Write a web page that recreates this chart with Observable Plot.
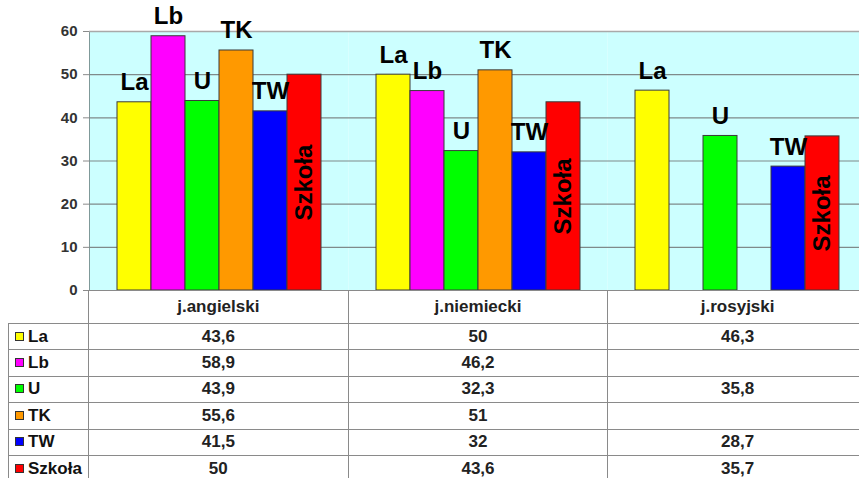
<!DOCTYPE html>
<html>
<head>
<meta charset="utf-8">
<script src="https://cdn.jsdelivr.net/npm/d3@7"></script>
<script src="https://cdn.jsdelivr.net/npm/@observablehq/plot@0.6"></script>
<style>
  html, body { margin: 0; padding: 0; background: #fff; width: 859px; height: 478px; overflow: hidden; }
  body { font-family: "Liberation Sans", Arial, sans-serif; }
  #wrap { position: relative; width: 868px; height: 478px; }
  #chart svg { display: block; }
  #chart [aria-label^="y-axis"] line, #chart [aria-label^="y-axis"] path { stroke: #8a8a8a; }
  #chart [aria-label^="y-axis"] text { fill: #333; font-size: 15px; font-weight: bold; }
  #tbl { position: absolute; left: 8px; top: 290px; border-collapse: collapse; table-layout: fixed; }
  #tbl td { border: 1px solid #8a8a8a; padding: 0; font-weight: bold; font-size: 17px; color: #222; text-align: center; white-space: nowrap; overflow: hidden; }
  #tbl tr.head td { height: 32px; }
  #tbl tr.row td { height: 25.4px; }
  #tbl td.blank { border-top: none; border-left: none; background: transparent; }
  #tbl td.key { text-align: left; color: #111; padding-left: 6px; }
  #tbl .sw { display: inline-block; width: 7px; height: 7px; border: 1px solid #333; margin-right: 4px; vertical-align: 1px; }
</style>
</head>
<body>
<div id="wrap"><div id="chart"></div></div>
<script>
const categories = ["j.angielski", "j.niemiecki", "j.rosyjski"];
const series = ["La", "Lb", "U", "TK", "TW", "Szkoła"];
const seriesColors = ["#FFFF00", "#FF00FF", "#00FF00", "#FF9900", "#0000FF", "#FF0000"];
const valuesAngielski = [43.6, 58.9, 43.9, 55.6, 41.5, 50];
const valuesNiemiecki = [50, 46.2, 32.3, 51, 32, 43.6];
const valuesRosyjski = [46.3, null, 35.8, null, 28.7, 35.7];
const yTicks = [0, 10, 20, 30, 40, 50, 60];

const valuesByCategory = [valuesAngielski, valuesNiemiecki, valuesRosyjski];
const data = [];
categories.forEach((c, ci) => {
  series.forEach((s, si) => {
    data.push({category: c, series: s, value: valuesByCategory[ci][si]});
  });
});
const present = data.filter(d => d.value != null);

const chart = Plot.plot({
  width: 868,
  height: 300,
  marginLeft: 88,
  marginRight: 1,
  marginTop: 31,
  marginBottom: 10,
  style: {fontFamily: "Liberation Sans, Arial, sans-serif", fontWeight: "bold", fontSize: "15px", background: "transparent", color: "#333"},
  fx: {domain: categories, paddingInner: 0, paddingOuter: 0, axis: null},
  x: {domain: series, paddingInner: 0, paddingOuter: 0.76, axis: null},
  y: {domain: [0, 60], ticks: yTicks, tickSize: 6, tickPadding: 6, line: true, label: null},
  color: {domain: series, range: seriesColors},
  marks: [
    Plot.frame({fill: "#CCFFFF", stroke: "none"}),
    Plot.ruleY(yTicks.filter(v => v > 0 && v < 60), {stroke: "#7f8a8a", strokeWidth: 1.2}),
    Plot.ruleY([60], {stroke: "#a9a9a9", strokeWidth: 1.5}),
    Plot.barY(present, {fx: "category", x: "series", y: "value", fill: "series", stroke: "#3a3a3a", strokeWidth: 1}),
    Plot.ruleY([0], {stroke: "#777", strokeWidth: 1.2}),
    Plot.text(present.filter(d => d.series !== "Szkoła"), {
      fx: "category", x: "series", y: "value", text: "series",
      lineAnchor: "bottom", dy: -12, fontSize: 24, fontWeight: "bold", fill: "#000"
    }),
    Plot.text(present.filter(d => d.series === "Szkoła"), {
      fx: "category", x: "series", y: d => d.value / 2, text: "series",
      rotate: -90, fontSize: 24, fontWeight: "bold", fill: "#000"
    })
  ]
});
document.getElementById("chart").appendChild(chart);

// data table below the plot, aligned with the facet bands
const colW = (868 - 88 - 1) / categories.length;
const table = document.createElement("table");
table.id = "tbl";
const colgroup = document.createElement("colgroup");
const c0 = document.createElement("col"); c0.style.width = "80px"; colgroup.appendChild(c0);
categories.forEach(() => { const c = document.createElement("col"); c.style.width = colW + "px"; colgroup.appendChild(c); });
table.appendChild(colgroup);
const head = document.createElement("tr");
head.className = "head";
const blank = document.createElement("td"); blank.className = "blank"; head.appendChild(blank);
categories.forEach(c => { const td = document.createElement("td"); td.textContent = c; td.style.background = "#fff"; head.appendChild(td); });
table.appendChild(head);
series.forEach((s, si) => {
  const tr = document.createElement("tr");
  tr.className = "row";
  const key = document.createElement("td");
  key.className = "key";
  const sw = document.createElement("span");
  sw.className = "sw";
  sw.style.background = seriesColors[si];
  key.appendChild(sw);
  key.appendChild(document.createTextNode(s));
  tr.appendChild(key);
  categories.forEach((c, ci) => {
    const td = document.createElement("td");
    const v = valuesByCategory[ci][si];
    td.textContent = v == null ? "" : String(v).replace(".", ",");
    tr.appendChild(td);
  });
  table.appendChild(tr);
});
document.getElementById("wrap").appendChild(table);
</script>
</body>
</html>
